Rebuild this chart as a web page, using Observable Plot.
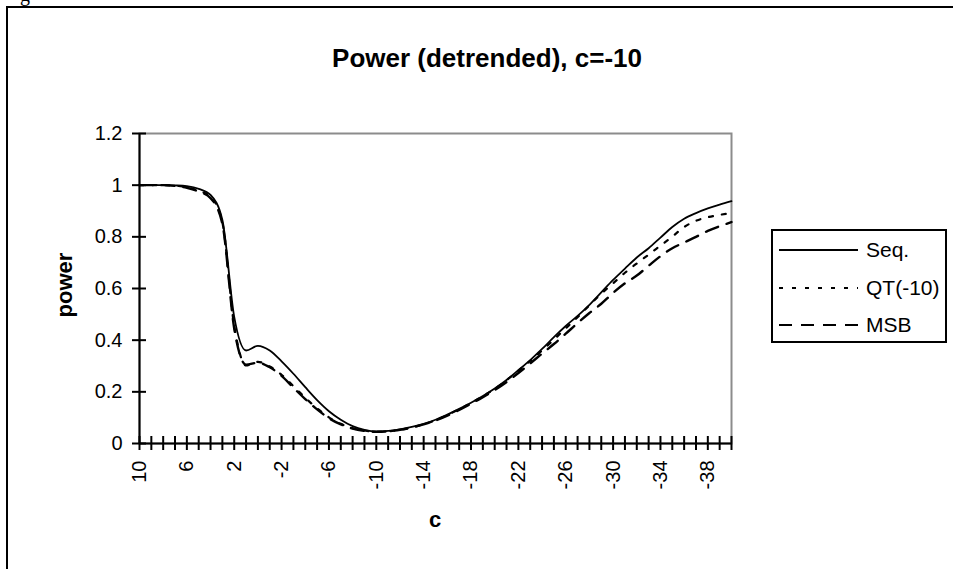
<!DOCTYPE html>
<html>
<head>
<meta charset="utf-8">
<script src="https://cdn.jsdelivr.net/npm/d3@7"></script>
<script src="https://cdn.jsdelivr.net/npm/@observablehq/plot@0.6"></script>
<style>
  html, body { margin: 0; padding: 0; background: #fff; }
  #wrap { position: relative; width: 953px; height: 569px; overflow: hidden; background: #fff;
          font-family: "Liberation Sans", Arial, sans-serif; color: #000; }
  #frame { position: absolute; left: 6px; top: 6px; width: 1200px; height: 1200px;
           border-left: 2px solid #000; border-top: 2px solid #000; }
  #plot { position: absolute; left: 0; top: 0; }
  .abs { position: absolute; white-space: nowrap; }
  #title { left: 487px; top: 45px; transform: translateX(-50%); font-size: 26px; font-weight: bold; line-height: 26px; }
  #ylab { left: 65px; top: 285px; transform: translate(-50%, -50%) rotate(-90deg); font-size: 22px; font-weight: bold; }
  #xlab { left: 435px; top: 520px; transform: translate(-50%, -50%); font-size: 22px; font-weight: bold; }
  #gtop { left: 20px; top: -17px; font-family: "Liberation Serif", serif; font-size: 20px; }
  #legend { position: absolute; left: 771px; top: 229px; width: 176px; height: 114px; box-sizing: border-box;
            border: 2px solid #000; background: #fff; }
</style>
</head>
<body>
<div id="wrap">
  <div id="frame"></div>
  <div id="plot"></div>
  <div class="abs" id="gtop">g</div>
  <div class="abs" id="title">Power (detrended), c=-10</div>
  <div class="abs" id="ylab">power</div>
  <div class="abs" id="xlab">c</div>
  <div id="legend"></div>
</div>
<script>
// ---- data ----
const cValues = [10, 9, 8, 7, 6, 5, 4, 3, 2, 1, 0, -1, -2, -3, -4, -5, -6, -7, -8, -9,
  -10, -11, -12, -13, -14, -15, -16, -17, -18, -19, -20, -21, -22, -23, -24, -25, -26, -27, -28, -29,
  -30, -31, -32, -33, -34, -35, -36, -37, -38, -39, -40];

const seqPower = [1.000, 1.000, 1.000, 0.999, 0.996, 0.986, 0.962, 0.865, 0.490, 0.360,
  0.378, 0.360, 0.318, 0.270, 0.218, 0.168, 0.125, 0.092, 0.067, 0.053,
  0.047, 0.049, 0.055, 0.064, 0.076, 0.092, 0.112, 0.134, 0.158, 0.184,
  0.213, 0.246, 0.284, 0.323, 0.366, 0.412, 0.455, 0.494, 0.537, 0.585,
  0.633, 0.677, 0.720, 0.756, 0.797, 0.838, 0.870, 0.892, 0.910, 0.925, 0.938];

const qtPower = [1.000, 1.000, 1.000, 0.998, 0.992, 0.978, 0.955, 0.855, 0.455, 0.302,
  0.316, 0.298, 0.266, 0.222, 0.177, 0.136, 0.101, 0.076, 0.059, 0.050,
  0.045, 0.047, 0.053, 0.062, 0.074, 0.090, 0.110, 0.133, 0.157, 0.183,
  0.212, 0.245, 0.282, 0.320, 0.360, 0.402, 0.446, 0.489, 0.535, 0.580,
  0.620, 0.661, 0.697, 0.731, 0.766, 0.801, 0.838, 0.862, 0.876, 0.885, 0.892];

const msbPower = [1.000, 1.000, 1.000, 0.997, 0.990, 0.975, 0.950, 0.850, 0.445, 0.305,
  0.313, 0.295, 0.262, 0.216, 0.172, 0.132, 0.098, 0.074, 0.058, 0.049,
  0.045, 0.047, 0.053, 0.062, 0.074, 0.089, 0.108, 0.130, 0.154, 0.179,
  0.207, 0.238, 0.273, 0.310, 0.348, 0.385, 0.425, 0.466, 0.505, 0.541,
  0.583, 0.620, 0.650, 0.688, 0.725, 0.756, 0.778, 0.800, 0.823, 0.841, 0.857];

const xTickLabels = [10, 6, 2, -2, -6, -10, -14, -18, -22, -26, -30, -34, -38];
const yTickValues = [0, 0.2, 0.4, 0.6, 0.8, 1, 1.2];
const seriesNames = ["Seq.", "QT(-10)", "MSB"];

// ---- styles per series ----
const styles = {
  "Seq.":    {dash: null,   width: 1.8},
  "QT(-10)": {dash: "4,9",  width: 2.2},
  "MSB":     {dash: "13,9", width: 2.4}
};

const seriesData = [seqPower, qtPower, msbPower];
const rows = seriesNames.map((name, k) => cValues.map((c, i) => ({series: name, c, v: seriesData[k][i]})));

const lineMarks = seriesNames.map((name, k) =>
  Plot.line(rows[k], {x: "c", y: "v", curve: "monotone-x", stroke: "black",
    strokeWidth: styles[name].width, strokeDasharray: styles[name].dash}));

const chart = Plot.plot({
  width: 953,
  height: 569,
  marginLeft: 139,
  marginRight: 222,
  marginTop: 133,
  marginBottom: 126,
  x: {domain: [10, -40], axis: null, label: null},
  y: {domain: [0, 1.2], axis: null, label: null},
  style: {fontFamily: "'Liberation Sans', Arial, sans-serif", fontSize: "20px", color: "black", background: "transparent", overflow: "visible"},
  marks: [
    Plot.frame({stroke: "#8c8c8c", strokeWidth: 2}),
    ...lineMarks,
    Plot.ruleX([10], {stroke: "black", strokeWidth: 2}),
    Plot.ruleY([0], {stroke: "black", strokeWidth: 2}),
    // y axis ticks (crossing) and labels
    Plot.axisY(yTickValues, {anchor: "left", tickSize: 7, strokeWidth: 2, tickFormat: () => "", label: null}),
    Plot.axisY(yTickValues, {anchor: "left", tickSize: 7, dx: 7, strokeWidth: 2, tickFormat: () => "", label: null}),
    Plot.axisY(yTickValues, {anchor: "left", tickSize: 0, tickPadding: 17, fontSize: 20, tickFormat: d => String(d), label: null}),
    // x axis ticks (crossing) and labels
    Plot.axisX(cValues, {anchor: "bottom", tickSize: 7, strokeWidth: 2, tickFormat: () => "", label: null}),
    Plot.axisX(cValues, {anchor: "bottom", tickSize: 7, dy: -7, strokeWidth: 2, tickFormat: () => "", label: null}),
    Plot.axisX(xTickLabels, {anchor: "bottom", tickSize: 0, tickPadding: 17, tickRotate: -90, fontSize: 20, tickFormat: d => String(d), label: null})
  ]
});
document.getElementById("plot").appendChild(chart);

// ---- legend ----
const ns = "http://www.w3.org/2000/svg";
const leg = document.createElementNS(ns, "svg");
leg.setAttribute("width", 172);
leg.setAttribute("height", 110);
leg.style.position = "absolute";
leg.style.left = "0px";
leg.style.top = "0px";
const rowY = [19, 57, 94];
seriesNames.forEach((name, i) => {
  const ln = document.createElementNS(ns, "line");
  ln.setAttribute("x1", 6); ln.setAttribute("x2", 85);
  ln.setAttribute("y1", rowY[i]); ln.setAttribute("y2", rowY[i]);
  ln.setAttribute("stroke", "black");
  ln.setAttribute("stroke-width", 2);
  if (styles[name].dash) ln.setAttribute("stroke-dasharray", styles[name].dash);
  leg.appendChild(ln);
  const tx = document.createElementNS(ns, "text");
  tx.setAttribute("x", 93); tx.setAttribute("y", rowY[i]);
  tx.setAttribute("dy", "0.35em");
  tx.setAttribute("font-size", 21);
  tx.setAttribute("font-family", "'Liberation Sans', Arial, sans-serif");
  tx.textContent = name;
  leg.appendChild(tx);
});
document.getElementById("legend").appendChild(leg);
</script>
</body>
</html>
